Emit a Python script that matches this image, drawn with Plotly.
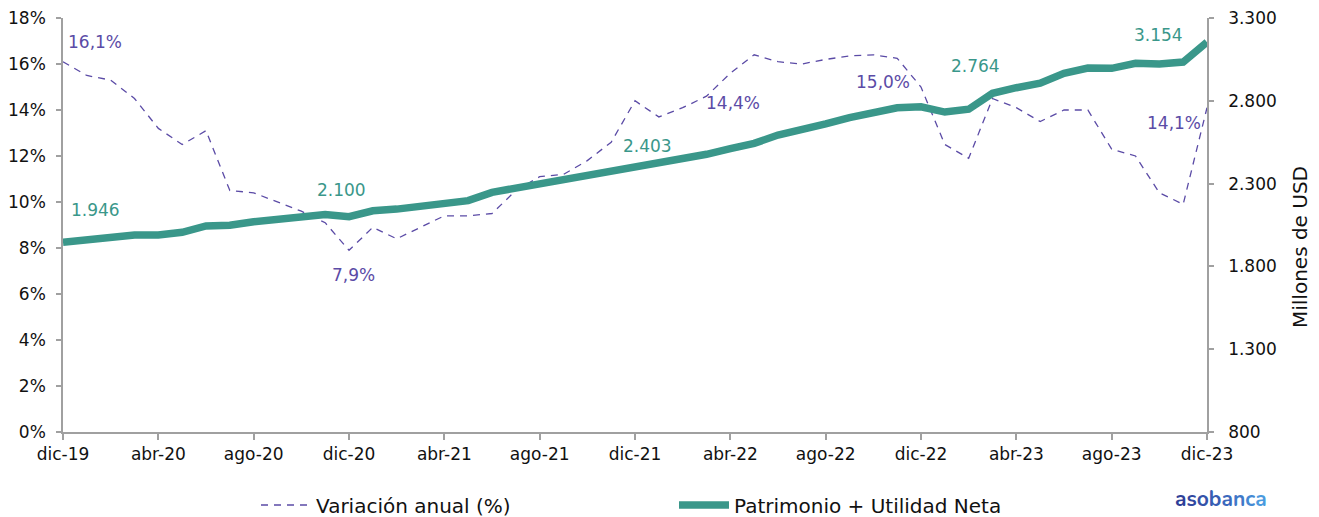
import plotly.graph_objects as go

meses = ["dic-19", "ene-20", "feb-20", "mar-20", "abr-20", "may-20", "jun-20", "jul-20",
         "ago-20", "sep-20", "oct-20", "nov-20", "dic-20", "ene-21", "feb-21", "mar-21",
         "abr-21", "may-21", "jun-21", "jul-21", "ago-21", "sep-21", "oct-21", "nov-21",
         "dic-21", "ene-22", "feb-22", "mar-22", "abr-22", "may-22", "jun-22", "jul-22",
         "ago-22", "sep-22", "oct-22", "nov-22", "dic-22", "ene-23", "feb-23", "mar-23",
         "abr-23", "may-23", "jun-23", "jul-23", "ago-23", "sep-23", "oct-23", "nov-23",
         "dic-23"]

variacion = [16.1, 15.5, 15.3, 14.5, 13.2, 12.5, 13.1, 10.5, 10.4, 10.0, 9.6, 9.1,
             7.9, 8.9, 8.4, 8.9, 9.4, 9.4, 9.5, 10.5, 11.1, 11.2, 11.8, 12.6,
             14.4, 13.7, 14.1, 14.6, 15.6, 16.4, 16.1, 16.0, 16.2, 16.35, 16.4, 16.25,
             15.0, 12.5, 11.9, 14.5, 14.1, 13.5, 14.0, 14.0, 12.3, 12.0, 10.4, 9.9,
             14.1]

patrimonio = [1946, 1962, 1983, 1990, 1990, 2006, 2044, 2048, 2070, 2084, 2102, 2113,
              2100, 2136, 2146, 2165, 2177, 2197, 2247, 2272, 2296, 2322, 2346, 2372,
              2403, 2423, 2447, 2477, 2511, 2543, 2593, 2624, 2660, 2698, 2724, 2758,
              2764, 2732, 2749, 2845, 2879, 2906, 2966, 2998, 2996, 3026, 3022, 3034,
              3154]

tick_idx = [0, 4, 8, 12, 16, 20, 24, 28, 32, 36, 40, 44, 48]
left_ticks = [0, 2, 4, 6, 8, 10, 12, 14, 16, 18]
right_ticks = [800, 1300, 1800, 2300, 2800, 3300]

PURPLE = "#5b4ba6"
TEAL = "#3a978a"
AXIS = "#a0a0a0"
FONT = "DejaVu Sans"
OFF = 8                      # page body margin
W, H = 1319 - OFF, 517 - OFF


def px(xp):
    return (xp - OFF) / W


def py(yp):
    return 1 - (yp - OFF) / H


x = list(range(len(meses)))


def fmt_pct(v):
    return f"{v:.1f}".replace(".", ",") + "%"


def fmt_num(v):
    return f"{v:,.0f}".replace(",", ".")


fig = go.Figure()
fig.add_trace(go.Scatter(x=x, y=variacion, name="Variación anual (%)", mode="lines",
                         line=dict(color=PURPLE, width=1.3, dash="7px,6px"), yaxis="y"))
fig.add_trace(go.Scatter(x=x, y=patrimonio, name="Patrimonio + Utilidad Neta", mode="lines",
                         line=dict(color=TEAL, width=7.5), yaxis="y2"))

# labels: (index, xshift, yshift)
pct_labels = [(0, 32, 20), (12, 4, -25), (24, 98, -2), (36, -38, 5), (48, -33, -15)]
num_labels = [(0, 32, 32), (12, -8, 27), (24, 12, 21), (36, 54, 41), (48, -49, 7)]
for i, xs, ys in pct_labels:
    fig.add_annotation(x=i, y=variacion[i], yref="y", text=fmt_pct(variacion[i]),
                       showarrow=False, xshift=xs, yshift=ys,
                       font=dict(color=PURPLE, size=17, family=FONT))
for i, xs, ys in num_labels:
    fig.add_annotation(x=i, y=patrimonio[i], yref="y2", text=fmt_num(patrimonio[i]),
                       showarrow=False, xshift=xs, yshift=ys,
                       font=dict(color=TEAL, size=17, family=FONT))

# right axis title
fig.add_annotation(xref="paper", yref="paper", x=px(1300), y=py(247), xanchor="center",
                   yanchor="middle", text="Millones de USD", textangle=-90, showarrow=False,
                   font=dict(size=20, family=FONT, color="#111111"))

# logo text with a blue gradient
logo = "asobanca"
logo_colors = ["#2f3f98", "#3148a0", "#3452a9", "#375db3", "#3b69bd", "#3f78c8",
               "#4489d3", "#4a9ade"]
logo_html = "".join(f"<span style='color:{c}'>{ch}</span>" for ch, c in zip(logo, logo_colors))
fig.add_annotation(xref="paper", yref="paper", x=px(1221), y=py(499), xanchor="center",
                   yanchor="middle", text=f"<b>{logo_html}</b>", showarrow=False,
                   font=dict(size=21, family="Nunito, Lato, sans-serif"))

fig.update_layout(
    width=W, height=H,
    margin=dict(l=0, r=0, t=0, b=0, autoexpand=False),
    paper_bgcolor="white", plot_bgcolor="white",
    font=dict(family=FONT, size=17, color="#111111"),
    showlegend=True,
    legend=dict(orientation="h", x=px(256), y=py(505), xanchor="left", yanchor="middle",
                entrywidth=353, entrywidthmode="pixels", bgcolor="rgba(0,0,0,0)",
                itemwidth=50,
                font=dict(size=20, color="#111111", family=FONT)),
    xaxis=dict(domain=[px(63), px(1207)], range=[0, 48], tickmode="array", tickvals=tick_idx,
               ticktext=[meses[i] for i in tick_idx], showgrid=False, zeroline=False,
               showline=True, linecolor=AXIS, linewidth=2, ticks="outside",
               ticklen=6, tickcolor=AXIS, tickwidth=1.5, automargin=False,
               tickfont=dict(size=17, family=FONT, color="#111111")),
    yaxis=dict(domain=[py(432), py(18)], range=[0, 18], tickmode="array",
               tickvals=left_ticks, automargin=False, ticklabeloverflow="allow",
               ticklabelstandoff=7,
               ticktext=[f"{v}%" for v in left_ticks], showgrid=False, zeroline=False,
               showline=True, linecolor=AXIS, linewidth=1.5, ticks="outside",
               ticklen=5, tickcolor=AXIS, tickwidth=1.5,
               tickfont=dict(size=17, family=FONT, color="#111111")),
    yaxis2=dict(range=[800, 3300], overlaying="y", side="right", tickmode="array",
                tickvals=right_ticks, ticktext=[fmt_num(v) for v in right_ticks],
                showgrid=False, zeroline=False, showline=True, linecolor=AXIS,
                linewidth=1.5, ticks="outside", ticklen=5, tickcolor=AXIS, tickwidth=1.5,
                automargin=False, ticklabeloverflow="allow", ticklabelstandoff=11,
                tickfont=dict(size=17, family=FONT, color="#111111")),
)

fig.write_html("out.html")
